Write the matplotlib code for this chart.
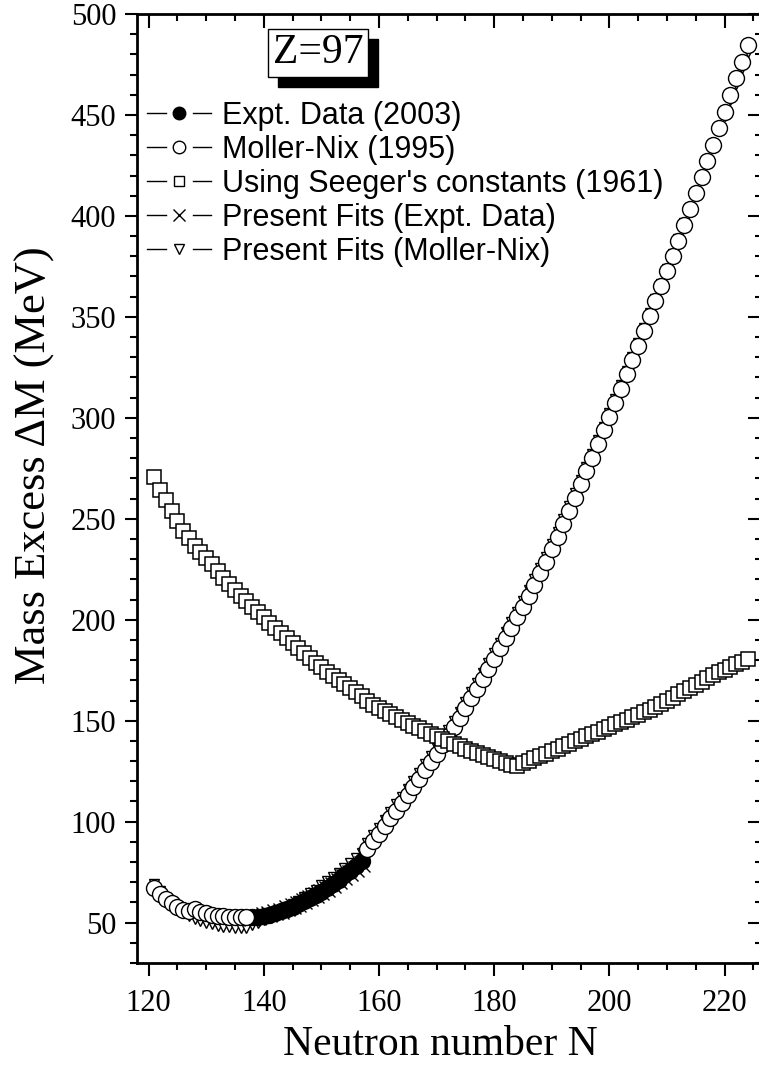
import matplotlib
matplotlib.use("Agg")
import matplotlib.pyplot as plt
from matplotlib.lines import Line2D
from matplotlib.legend_handler import HandlerBase
from matplotlib.patches import Rectangle
from matplotlib.ticker import MultipleLocator

# Moller-Nix (1995), shown where there is no experimental value
mn_n_low = list(range(121, 138))
mn_low = [67.3, 64.3, 61.8, 59.6, 57.6, 56.3, 56.0, 56.5, 55.5, 54.6,
          54.0, 53.5, 53.2, 53.0, 52.9, 52.8, 52.8]
mn_n_high = list(range(158, 225))
mn_high = [86.5, 90.2, 94.0, 97.8, 101.6, 105.5, 109.4, 113.3, 117.3, 121.3,
           125.4, 129.5, 133.7, 138.0, 142.4, 146.9, 151.5, 156.2, 161.0, 165.9,
           170.8, 175.8, 180.8, 185.8, 190.9, 196.0, 201.2, 206.5, 211.9, 217.4,
           223.0, 228.7, 235.0, 241.2, 247.5, 253.9, 260.4, 267.0, 273.6, 280.3,
           287.0, 293.8, 300.6, 307.5, 314.5, 321.5, 328.6, 335.8, 343.0, 350.3,
           357.7, 365.1, 372.6, 380.2, 387.8, 395.5, 403.3, 411.2, 419.1, 427.1,
           435.2, 443.3, 451.5, 459.8, 468.1, 476.4, 484.7]

# Expt. data (2003)
expt_n = list(range(138, 158))
expt = [52.8, 53.0, 53.4, 54.0, 54.8, 55.7, 56.7, 57.9, 59.2, 60.6,
        62.1, 63.7, 65.4, 67.2, 69.2, 71.3, 73.4, 75.6, 78.0, 80.6]

# Present fits to expt. data
fit_expt = [52.5, 53.0, 53.6, 54.3, 55.1, 56.0, 57.0, 58.1, 59.3, 60.6,
            62.0, 63.5, 65.1, 66.8, 68.6, 70.5, 72.5, 74.6, 76.8, 79.1]

# Seeger's constants (1961) and present fits to Moller-Nix, N = 121..224
all_n = list(range(121, 225))
seeger = [270.5, 264.5, 259.5, 254.0, 249.0, 244.0, 240.5, 236.5, 233.5, 230.5,
          227.5, 224.0, 220.5, 217.5, 214.5, 212.0, 209.5, 206.5, 204.0, 201.3,
          198.5, 196.0, 193.3, 190.8, 188.3, 185.8, 183.4, 181.0, 178.6, 176.4,
          174.2, 172.0, 170.0, 168.0, 166.0, 164.0, 162.0, 160.0, 158.0, 156.2,
          154.8, 153.2, 151.8, 150.4, 149.0, 147.6, 146.2, 144.8, 143.5, 142.2,
          141.0, 139.8, 138.6, 137.4, 136.2, 135.0, 133.9, 132.8, 131.8, 130.8,
          129.9, 129.0, 128.2, 127.6, 129.0, 130.0, 131.3, 132.5, 133.7, 134.9,
          136.1, 137.3, 138.5, 139.8, 141.0, 142.2, 143.4, 144.6, 145.8, 147.0,
          148.2, 149.3, 150.4, 151.6, 152.8, 154.1, 155.4, 156.7, 158.2, 159.8,
          161.4, 163.0, 164.6, 166.2, 167.8, 169.4, 171.0, 172.6, 174.0, 175.3,
          176.6, 177.9, 179.2, 180.5]
fit_mn = [69.3, 65.6, 62.4, 59.6, 57.2, 55.1, 53.4, 52.0, 50.8, 49.9,
          49.1, 48.5, 48.0, 47.6, 47.3, 47.1, 47.2, 48.6, 50.0, 51.5,
          53.0, 54.5, 56.0, 57.6, 59.2, 60.9, 62.7, 64.5, 66.4, 68.4,
          70.4, 72.5, 74.7, 77.0, 79.4, 81.9, 84.5, 89.5, 93.2, 97.0,
          100.8, 104.6, 108.5, 112.4, 116.3, 120.3, 124.3, 128.4, 132.5, 136.7,
          141.0, 145.4, 149.9, 154.5, 159.2, 164.0, 168.9, 173.8, 178.8, 183.7,
          188.7, 193.7, 198.8, 203.9, 209.2, 214.5, 220.0, 225.5, 231.2, 237.4,
          243.5, 249.8, 256.1, 262.6, 269.1, 275.7, 282.3, 289.0, 295.7, 302.5,
          309.3, 316.3, 323.2, 330.2, 337.3, 344.5, 351.7, 359.0, 366.3, 373.8,
          381.3, 388.8, 396.3, 403.9, 411.5, 419.1, 426.8, 434.5, 442.0, 449.7,
          457.5, 465.4, 473.2, 481.2]

labels = ["Expt. Data (2003)", "Moller-Nix (1995)",
          "Using Seeger's constants (1961)", "Present Fits (Expt. Data)",
          "Present Fits (Moller-Nix)"]


class GapLine(HandlerBase):
    # origin-style legend key: short line, marker, short line
    def create_artists(self, legend, orig_handle, xdescent, ydescent,
                       width, height, fontsize, trans):
        y = height / 2 - ydescent
        cx = width / 2 - xdescent
        g = 0.21 * width
        l1 = Line2D([-xdescent, cx - g], [y, y], color="k", lw=1)
        l2 = Line2D([cx + g, width - xdescent], [y, y], color="k", lw=1)
        m = Line2D([cx], [y], marker=orig_handle.get_marker(), ls="none",
                   ms=orig_handle.get_markersize(),
                   mfc=orig_handle.get_markerfacecolor(), mec="k", mew=1)
        for a in (l1, l2, m):
            a.set_transform(trans)
        return [l1, l2, m]


plt.rcParams["font.family"] = ["Liberation Serif", "DejaVu Serif"]

fig = plt.figure(figsize=(7.59, 10.65), dpi=100)
ax = fig.add_axes([137 / 759, 1 - 963 / 1065, (762 - 137) / 759, (963 - 14) / 1065])

ax.plot(all_n, fit_mn, "v", ms=6.5, mfc="white", mec="k", mew=1, zorder=2)
ax.plot(expt_n, fit_expt, "x", ms=12, mec="k", mew=1, zorder=3)
ax.plot(expt_n, expt, "o", ms=11.5, mfc="k", mec="k", mew=1, zorder=4)
ax.plot(mn_n_low, mn_low, "o", ms=11.5, mfc="white", mec="k", mew=1, zorder=5)
ax.plot(mn_n_high, mn_high, "o", ms=11.5, mfc="white", mec="k", mew=1, zorder=5)
ax.plot(all_n, seeger, "s", ms=10, mfc="white", mec="k", mew=1.1, zorder=6)

ax.set_xlim(118, 226.5)
ax.set_ylim(30, 500)
ax.xaxis.set_major_locator(MultipleLocator(20))
ax.xaxis.set_minor_locator(MultipleLocator(5))
ax.yaxis.set_major_locator(MultipleLocator(50))
ax.yaxis.set_minor_locator(MultipleLocator(10))
ax.tick_params(which="both", direction="out", width=1.5, labelsize=22, top=False, right=False)
ax.tick_params(which="major", length=9, pad=6)
ax.tick_params(which="minor", length=5)
ax.tick_params(axis="x", which="major", pad=10)
for s in ax.spines.values():
    s.set_linewidth(2)

# inward ticks on top and right
top = ax.secondary_xaxis("top")
top.xaxis.set_major_locator(MultipleLocator(20))
top.xaxis.set_minor_locator(MultipleLocator(5))
top.tick_params(which="both", direction="in", width=1.5, labeltop=False)
top.tick_params(which="major", length=10)
top.tick_params(which="minor", length=5)
right = ax.secondary_yaxis("right")
right.yaxis.set_major_locator(MultipleLocator(50))
right.yaxis.set_minor_locator(MultipleLocator(10))
right.tick_params(which="both", direction="in", width=1.5, labelright=False)
right.tick_params(which="major", length=10)
right.tick_params(which="minor", length=5)

ax.set_xlabel("Neutron number N", fontsize=30)
ax.xaxis.set_label_coords(0.486, -0.066)
ax.set_ylabel("Mass Excess \u0394M (MeV)", fontsize=32, va="center")
ax.yaxis.set_label_coords(-0.163, 0.525)

handles = [Line2D([], [], marker="o", ms=9, mfc="k"),
           Line2D([], [], marker="o", ms=9, mfc="white"),
           Line2D([], [], marker="s", ms=7.5, mfc="white"),
           Line2D([], [], marker="x", ms=8, mfc="k"),
           Line2D([], [], marker="v", ms=7.5, mfc="white")]
leg = ax.legend(handles, labels, handler_map={Line2D: GapLine()},
                loc="upper left", bbox_to_anchor=(147 / 759, 1 - 101 / 1065),
                bbox_transform=fig.transFigure, frameon=False,
                prop={"family": "Liberation Sans", "size": 22},
                handlelength=2.1, handletextpad=0.35, labelspacing=0.13,
                borderpad=0, borderaxespad=0)

# Z=97 box with drop shadow
zt = fig.text(318 / 759, 1 - 53 / 1065, "Z=97", fontsize=30, ha="center", va="center",
              zorder=10, bbox=dict(boxstyle="square,pad=0.12", fc="white", ec="k", lw=1))
fig.canvas.draw()
bb = zt.get_bbox_patch().get_window_extent()
fig.patches.append(Rectangle((bb.x0 + 10, bb.y0 - 10), bb.width, bb.height,
                             transform=None, fc="k", ec="k", zorder=9))

fig.savefig("out.png", dpi=100)
